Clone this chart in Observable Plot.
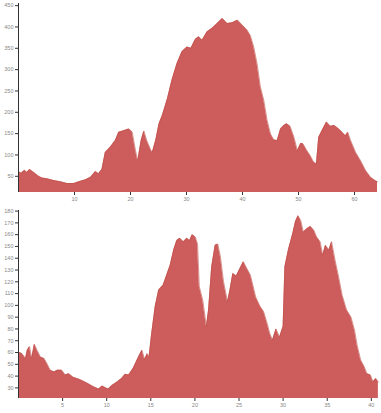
<!DOCTYPE html>
<html>
<head>
<meta charset="utf-8">
<script src="https://cdn.jsdelivr.net/npm/d3@7"></script>
<script src="https://cdn.jsdelivr.net/npm/@observablehq/plot@0.6"></script>
<style>
  html, body { margin: 0; padding: 0; background: #fff; }
  #chart svg { display: block; }
</style>
</head>
<body>
<div id="chart"></div>
<script>
// Top panel (full profile)
const topX = [0,0.5,1.1,1.5,2.0,2.75,3.6,4.2,5.1,6.3,7.5,8.7,9.9,10.8,12,12.9,13.75,14.3,14.9,15.5,16.4,17.3,17.9,18.8,19.7,20.3,20.9,21.3,21.9,22.4,22.9,23.6,23.9,24.5,25.1,25.7,26.6,27.4,28.3,29.2,30.1,30.8,31.6,32.2,32.8,33.7,34.6,35.5,36.4,37.3,38.2,39.1,39.9,40.8,41.4,42.0,42.6,43.2,43.8,44.4,45,45.6,46.2,46.8,47.4,47.9,48.5,49.2,49.8,50.4,50.8,51.5,52.1,52.7,53.2,53.6,54.2,55,55.7,56.4,57.2,57.8,58.4,58.8,59.3,60.2,61.1,62,62.9,63.8,64.1];
const topY = [61,57,64,59,66,59,50,46,44,40,37,33,33,37,42,48,61,56,66,106,118,134,153,157,161,154,110,86,134,156,134,112,106,134,173,193,232,275,314,342,353,350,371,377,369,389,397,408,420,408,410,416,405,393,380,353,314,259,228,181,149,135,134,161,169,173,167,141,110,127,126,110,98,83,79,141,157,177,167,169,161,153,145,153,134,106,86,63,47,39,37];
const topXTicks = [10,20,30,40,50,60];
const topYTicks = [50,100,150,200,250,300,350,400,450];

// Bottom panel (detail profile)
const botX = [0,0.4,0.8,1.0,1.25,1.5,1.8,2.1,2.5,2.9,3.2,3.6,4.05,4.4,4.9,5.3,5.7,6.2,7,7.8,8.5,9.1,9.5,9.9,10.2,10.6,11.2,11.7,12.1,12.5,13.0,13.6,14.0,14.3,14.6,14.8,15.1,15.5,15.9,16.4,16.8,17.2,17.6,17.95,18.3,18.7,19.1,19.4,19.7,20.05,20.3,20.5,20.9,21.3,21.55,21.9,22.3,22.6,22.9,23.25,23.7,24.0,24.3,24.7,25.1,25.5,25.8,26.3,26.9,27.4,27.8,28.2,28.5,28.8,29.2,29.6,30.0,30.2,30.6,31.1,31.4,31.7,32.0,32.3,32.7,33.1,33.5,33.8,34.2,34.5,34.8,35.2,35.5,35.9,36.3,36.7,37.2,37.7,38.1,38.4,38.8,39.2,39.5,39.9,40.2,40.5,40.8];
const botY = [60.5,59,55,62,65,55,67,62,56,55,51,45,43.5,45,45,41,42,39,37,34,31,29,31.5,30,29,32,35,38,41.5,41,46.5,56,62,54,59,56,76,99,113,117,125.5,134,147,155,157,154,157,155,160,158,152,116,104,82,96,132.5,151,152,141,120,103,114,127,125,131,137,132.5,125.5,107,99,94.5,84.5,76,70.5,80,73,82,132.5,147,161,171,176,172,162,165,167,163.5,158,154,142.5,151,147,154,138,124,108.5,96,90,79,66,53.5,48,42,41,35,38,35];
const botXTicks = [5,10,15,20,25,30,35,40];
const botYTicks = [30,40,50,60,70,80,90,100,110,120,130,140,150,160,170,180];

const fillColor = "#cd5c5c";
const edgeColor = "#bf5048";

function panel(xs, ys, opts) {
  const data = xs.map((x, i) => ({x, y: ys[i]}));
  const y0 = opts.yDomain[0];
  return Plot.plot({
    width: 381,
    height: opts.height,
    marginLeft: 18,
    marginRight: 4,
    marginTop: opts.marginTop,
    marginBottom: opts.marginBottom,
    style: {fontSize: "5.5px", fontFamily: "Liberation Sans, Arial, sans-serif", background: "#fff"},
    x: {domain: opts.xDomain, label: null},
    y: {domain: opts.yDomain, label: null},
    marks: [
      Plot.areaY(data, {x: "x", y1: y0, y2: "y", fill: fillColor, curve: "linear"}),
      Plot.lineY(data, {x: "x", y: "y", stroke: edgeColor, strokeWidth: 0.6}),
      Plot.axisX({ticks: opts.xTicks, tickSize: 3, tickPadding: 1.5, stroke: "#333", color: "#888", label: null}),
      Plot.axisY({ticks: opts.yTicks, tickSize: 3, tickPadding: 2, stroke: "#333", color: "#888", label: null}),
      Plot.ruleX([opts.xDomain[0]], {stroke: "#333", strokeWidth: 1})
    ]
  });
}

const chart = document.getElementById("chart");
chart.appendChild(panel(topX, topY, {
  height: 205, marginTop: 3, marginBottom: 13,
  xDomain: [0, 64.1], yDomain: [12, 455],
  xTicks: topXTicks, yTicks: topYTicks
}));
chart.appendChild(panel(botX, botY, {
  height: 208, marginTop: 5, marginBottom: 15,
  xDomain: [0, 40.7], yDomain: [21, 180.5],
  xTicks: botXTicks, yTicks: botYTicks
}));
</script>
</body>
</html>
